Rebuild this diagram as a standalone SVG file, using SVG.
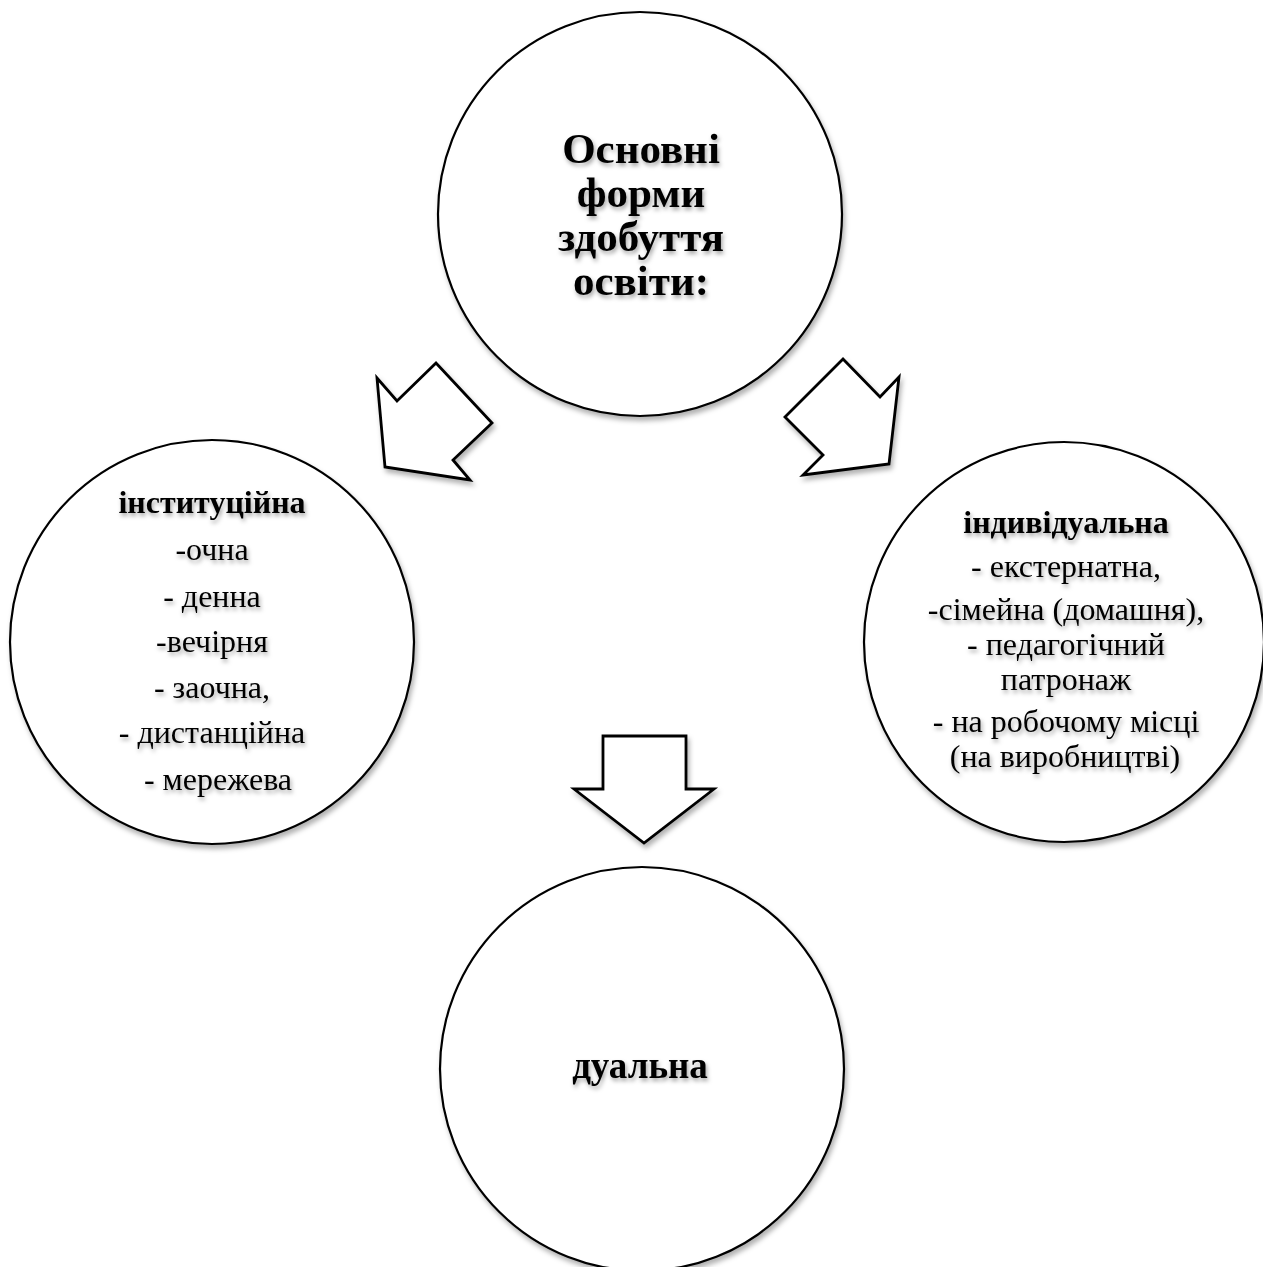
<svg xmlns="http://www.w3.org/2000/svg" width="1263" height="1267" viewBox="0 0 1263 1267">
<style>
.node{fill:#fff;stroke:#000;stroke-width:2.2}
.arrow{fill:#fff;stroke:#000;stroke-width:2.8;stroke-linejoin:miter}
text{font-family:"Liberation Serif","Times New Roman",serif;fill:#000;text-anchor:middle}
.title{font-size:43px;font-weight:bold}
.b{font-size:32px;font-weight:bold}
.n{font-size:32px}
.d{font-size:37px;font-weight:bold}
</style>
<defs>
<filter id="sh" x="-10%" y="-10%" width="130%" height="130%">
<feDropShadow dx="2" dy="4" stdDeviation="2.5" flood-color="#000" flood-opacity="0.3"/>
</filter>
<filter id="tsh" x="-10%" y="-20%" width="130%" height="160%">
<feDropShadow dx="1.5" dy="3" stdDeviation="2" flood-color="#000" flood-opacity="0.35"/>
</filter>
</defs>
<rect width="1263" height="1267" fill="#fff"/>
<g id="connectors" filter="url(#sh)">
<polygon class="arrow" points="436,363 397,401 377,378 385,467 470,480 453,460 492,423"/>
<polygon class="arrow" points="843,359 880,397 899,377 889,464 803,475 823,455 785,417"/>
<polygon class="arrow" points="603,736 686,736 686,789 714,789 644,843 574,789 603,789"/>
</g>
<g id="node-main">
<circle class="node" cx="640" cy="214" r="202" filter="url(#sh)"/>
<g filter="url(#tsh)">
<text class="title" x="641" y="163">Основні</text>
<text class="title" x="641" y="207">форми</text>
<text class="title" x="641" y="251">здобуття</text>
<text class="title" x="641" y="295">освіти:</text>
</g>
</g>
<g id="node-institutional">
<circle class="node" cx="212" cy="642" r="202" filter="url(#sh)"/>
<g filter="url(#tsh)">
<text class="b" x="212" y="513">інституційна</text>
<text class="n" x="212" y="560">-очна</text>
<text class="n" x="212" y="607">- денна</text>
<text class="n" x="212" y="652">-вечірня</text>
<text class="n" x="212" y="698">- заочна,</text>
<text class="n" x="212" y="743">- дистанційна</text>
<text class="n" x="218" y="790">- мережева</text>
</g>
</g>
<g id="node-individual">
<circle class="node" cx="1064" cy="642" r="200" filter="url(#sh)"/>
<g filter="url(#tsh)">
<text class="b" x="1066" y="533">індивідуальна</text>
<text class="n" x="1066" y="577">- екстернатна,</text>
<text class="n" x="1066" y="620">-сімейна (домашня),</text>
<text class="n" x="1066" y="655">- педагогічний</text>
<text class="n" x="1066" y="690">патронаж</text>
<text class="n" x="1066" y="732">- на робочому місці</text>
<text class="n" x="1065" y="767">(на виробництві)</text>
</g>
</g>
<g id="node-dual">
<circle class="node" cx="642" cy="1069" r="202" filter="url(#sh)"/>
<text class="d" x="640" y="1078" filter="url(#tsh)">дуальна</text>
</g>
</svg>
